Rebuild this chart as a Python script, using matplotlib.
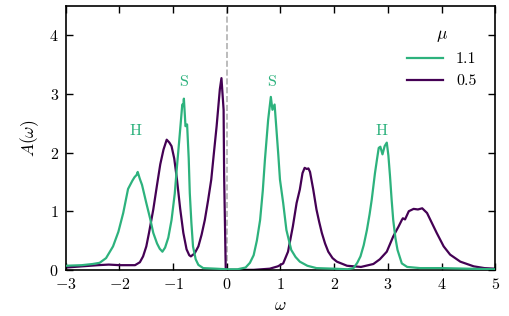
import matplotlib
matplotlib.use("Agg")
import matplotlib.pyplot as plt
import numpy as np

plt.rcParams.update({
    "font.family": "serif",
    "font.serif": ["cmr10"],
    "mathtext.fontset": "cm",
    "axes.formatter.use_mathtext": True,
    "axes.unicode_minus": True,
    "font.size": 11.5,
})

# mu = 1.1 (green)
omega_11 = [-3.00, -2.70, -2.50, -2.37, -2.25, -2.12, -2.02, -1.93, -1.84, -1.76, -1.72, -1.68,
            -1.66, -1.62, -1.58, -1.50, -1.43, -1.37, -1.30, -1.25, -1.20, -1.15, -1.09, -1.03,
            -0.97, -0.93, -0.89, -0.85, -0.83, -0.81, -0.80, -0.77, -0.74, -0.71, -0.69, -0.66,
            -0.63, -0.58, -0.53, -0.44, -0.20, 0.00, 0.20, 0.35, 0.43, 0.50, 0.56, 0.62, 0.67,
            0.71, 0.77, 0.82, 0.85, 0.89, 0.92, 0.96, 0.99, 1.05, 1.11, 1.20, 1.28, 1.36, 1.50,
            1.67, 2.00, 2.25, 2.36, 2.43, 2.49, 2.55, 2.61, 2.66, 2.70, 2.76, 2.80, 2.83, 2.86,
            2.90, 2.94, 2.98, 3.01, 3.04, 3.07, 3.10, 3.14, 3.18, 3.26, 3.36, 3.60, 4.00, 4.50,
            5.00]
A_11 = [0.07, 0.08, 0.10, 0.12, 0.20, 0.40, 0.65, 0.97, 1.38, 1.52, 1.58, 1.62,
        1.67, 1.55, 1.45, 1.14, 0.88, 0.63, 0.45, 0.36, 0.31, 0.38, 0.55, 0.85,
        1.30, 1.75, 2.17, 2.60, 2.82, 2.80, 2.92, 2.45, 2.48, 1.90, 1.31, 0.80,
        0.40, 0.18, 0.085, 0.03, 0.02, 0.01, 0.01, 0.04, 0.12, 0.25, 0.50, 0.85, 1.35,
        1.88, 2.56, 2.95, 2.73, 2.82, 2.45, 1.95, 1.54, 1.14, 0.68, 0.34, 0.22, 0.14, 0.07,
        0.03, 0.02, 0.01, 0.03, 0.12, 0.23, 0.42, 0.68, 0.95, 1.20, 1.65, 1.90, 2.08, 2.10,
        1.97, 2.11, 2.17, 1.95, 1.60, 1.20, 0.85, 0.55, 0.34, 0.11, 0.05, 0.03, 0.03, 0.02,
        0.01]

# mu = 0.5 (purple)
omega_05 = [-3.00, -2.70, -2.40, -2.20, -2.00, -1.71, -1.62, -1.56, -1.50, -1.45, -1.37, -1.30,
            -1.24, -1.18, -1.12, -1.07, -1.03, -0.98, -0.93, -0.87, -0.81, -0.75, -0.70, -0.67,
            -0.60, -0.53, -0.47, -0.41, -0.35, -0.29, -0.24, -0.19, -0.13, -0.10, -0.06, -0.05,
            -0.02, 0.00, 0.50, 0.80, 0.95, 1.05, 1.14, 1.23, 1.30, 1.36, 1.41, 1.45, 1.49, 1.52,
            1.55, 1.61, 1.67, 1.72, 1.77, 1.83, 1.89, 1.97, 2.05, 2.24, 2.50, 2.73, 2.85, 2.98,
            3.10, 3.20, 3.26, 3.28, 3.32, 3.39, 3.48, 3.56, 3.64, 3.73, 3.82, 3.91, 4.04, 4.16,
            4.35, 4.60, 4.80, 5.00]
A_05 = [0.04, 0.06, 0.08, 0.09, 0.08, 0.08, 0.13, 0.23, 0.40, 0.63, 1.03, 1.45,
        1.80, 2.05, 2.22, 2.17, 2.11, 1.90, 1.55, 1.05, 0.63, 0.35, 0.25, 0.23,
        0.28, 0.40, 0.60, 0.85, 1.18, 1.54, 2.00, 2.45, 3.08, 3.27, 2.73, 1.60,
        0.00, 0.00, 0.00, 0.02, 0.06, 0.11, 0.31, 0.74, 1.14, 1.37, 1.65, 1.74, 1.72, 1.73,
        1.67, 1.37, 1.03, 0.82, 0.63, 0.45, 0.31, 0.20, 0.14, 0.07, 0.05, 0.10, 0.18, 0.31,
        0.57, 0.74, 0.85, 0.88, 0.86, 1.00, 1.04, 1.03, 1.05, 0.97, 0.80, 0.63, 0.40, 0.26,
        0.14, 0.06, 0.03, 0.02]

peak_labels = ["H", "S", "S", "H"]
peak_omega = [-1.71, -0.80, 0.84, 2.88]
peak_A = [2.36, 3.20, 3.20, 2.36]

GREEN = "#2db27d"
PURPLE = "#440154"

fig = plt.figure(figsize=(5.1, 3.16), dpi=100)
ax = fig.add_axes([0.129, 0.146, 0.842, 0.835])

ax.axvline(0, color="#b0b0b0", ls="--", lw=1.2, zorder=1)
ax.plot(omega_11, A_11, color=GREEN, lw=1.6, label="1.1", zorder=3)
ax.plot(omega_05, A_05, color=PURPLE, lw=1.6, label="0.5", zorder=2)

for txt, x, y in zip(peak_labels, peak_omega, peak_A):
    ax.text(x, y, txt, color=GREEN, ha="center", va="center", fontsize=11.5)

ax.set_xlim(-3, 5)
ax.set_ylim(0, 4.5)
ax.set_xticks(np.arange(-3, 6, 1))
ax.set_yticks(np.arange(0, 5, 1))
ax.tick_params(direction="in", top=True, right=True, length=5, width=1, pad=5)
for s in ax.spines.values():
    s.set_linewidth(1.2)

ax.set_xlabel(r"$\omega$", fontsize=12.5, labelpad=4)
ax.set_ylabel(r"$A(\omega)$", fontsize=12.5, labelpad=6)

leg = ax.legend(title=r"$\mu$", frameon=False, loc="upper right",
                bbox_to_anchor=(0.99, 0.98),
                handlelength=2.3, fontsize=11.5, title_fontsize=12.5)
leg._legend_box.align = "center"

fig.savefig("out.png", dpi=100)
